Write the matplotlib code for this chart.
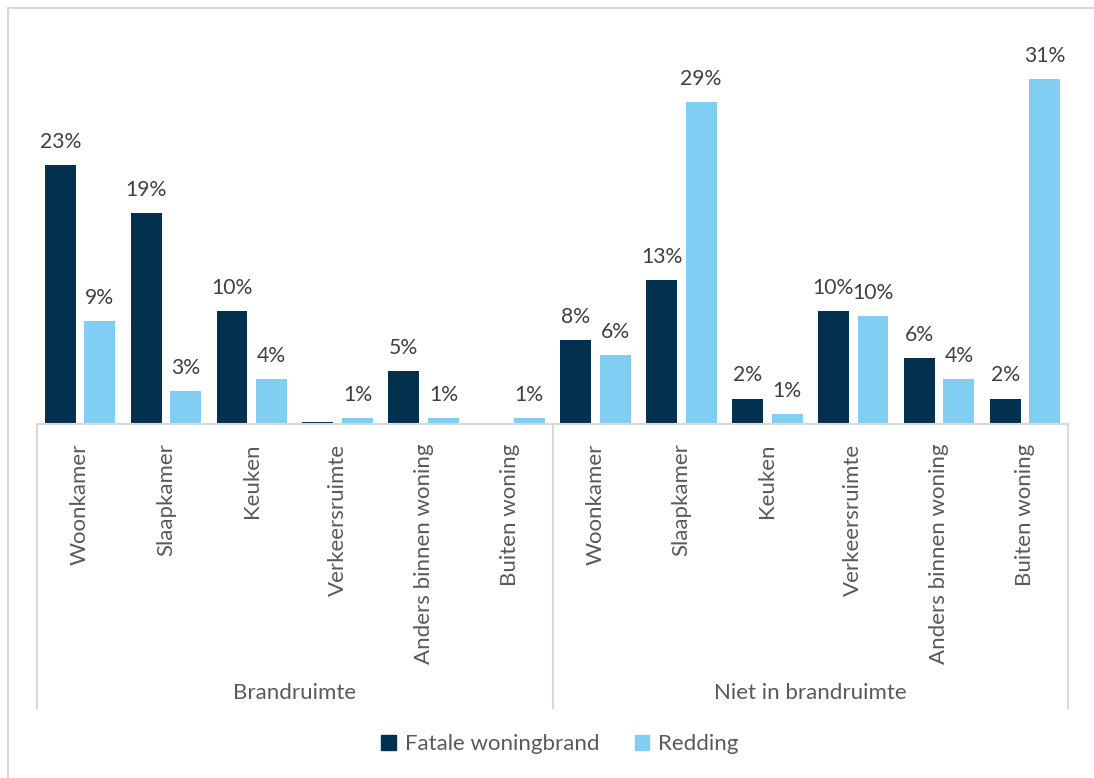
import matplotlib.pyplot as plt
import numpy as np
from matplotlib.lines import Line2D
from matplotlib.patches import Patch

plt.rcParams['font.family'] = ['Lato', 'DejaVu Sans']

# Percentages per room, two groups of six rooms
rooms = ['Woonkamer', 'Slaapkamer', 'Keuken', 'Verkeersruimte',
         'Anders binnen woning', 'Buiten woning']
groups = ['Brandruimte', 'Niet in brandruimte']
fatale = [23.4, 19.1, 10.2, 0.2, 4.8, 0.0,
          7.6, 13.0, 2.3, 10.2, 6.0, 2.3]
redding = [9.3, 3.0, 4.1, 0.5, 0.5, 0.5,
           6.2, 29.1, 0.9, 9.8, 4.1, 31.2]
series_names = ['Fatale woningbrand', 'Redding']

dark = '#02314f'
light = '#80cff3'
grid_grey = '#d9d9d9'
text_grey = '#595959'
label_grey = '#404040'
fs = 16

W, H = 1094, 778
fig = plt.figure(figsize=(W / 100, H / 100), dpi=100)

# chart border (top and left edge)
fig.add_artist(Line2D([8 / W, 8 / W], [0, 1 - 8 / H], color=grid_grey, lw=1.5,
                      transform=fig.transFigure))
fig.add_artist(Line2D([8 / W, 1], [1 - 8 / H, 1 - 8 / H], color=grid_grey, lw=1.5,
                      transform=fig.transFigure))

ax_left, ax_right, ax_top, ax_base = 37, 1068, 50, 424
ax = fig.add_axes([ax_left / W, 1 - ax_base / H,
                   (ax_right - ax_left) / W, (ax_base - ax_top) / H])

n = len(fatale)
x = np.arange(n)
bw = 0.36
off = 0.23
ax.bar(x - off, fatale, width=bw, color=dark)
ax.bar(x + off, redding, width=bw, color=light)


def pct(v):
    return '{}%'.format(int(v + 0.5))


for xs, vals in ((x - off, fatale), (x + off, redding)):
    for xi, v in zip(xs, vals):
        if v < 0.5:
            continue
        ax.annotate(pct(v), (xi, v), xytext=(0, 9.5), textcoords='offset points',
                    ha='center', va='bottom', fontsize=15.2, color=label_grey)

ax.set_xlim(-0.5, n - 0.5)
ax.set_ylim(0, (ax_base - ax_top) / 11.05)
ax.set_yticks([])
ax.set_xticks(x)
ax.set_xticklabels(rooms * 2, rotation=90, fontsize=fs, color=text_grey)
ax.tick_params(axis='x', length=0, pad=14)
for s in ['top', 'right', 'left']:
    ax.spines[s].set_visible(False)
ax.spines['bottom'].set_color(grid_grey)
ax.spines['bottom'].set_linewidth(1.5)

# group separators below the axis
trans = ax.get_xaxis_transform()
sep_bottom = -(708 - ax_base) / (ax_base - ax_top)
for xs in (-0.5, 5.5, 11.5):
    ax.plot([xs, xs], [0, sep_bottom], color=grid_grey, lw=1.5,
            transform=trans, clip_on=False)

grp_y = -(693 - ax_base) / (ax_base - ax_top)
for i, g in enumerate(groups):
    ax.text(2.5 + 6 * i, grp_y, g, transform=trans, ha='center', va='center',
            fontsize=fs, color=text_grey)

handles = [Patch(color=dark), Patch(color=light)]
fig.legend(handles, series_names, loc='center', bbox_to_anchor=(560 / W, 1 - 744 / H),
           ncol=2, frameon=False, fontsize=fs, labelcolor=text_grey,
           handlelength=0.65, handleheight=0.65, handletextpad=0.4,
           columnspacing=1.6)

fig.savefig('out.png', dpi=100)
